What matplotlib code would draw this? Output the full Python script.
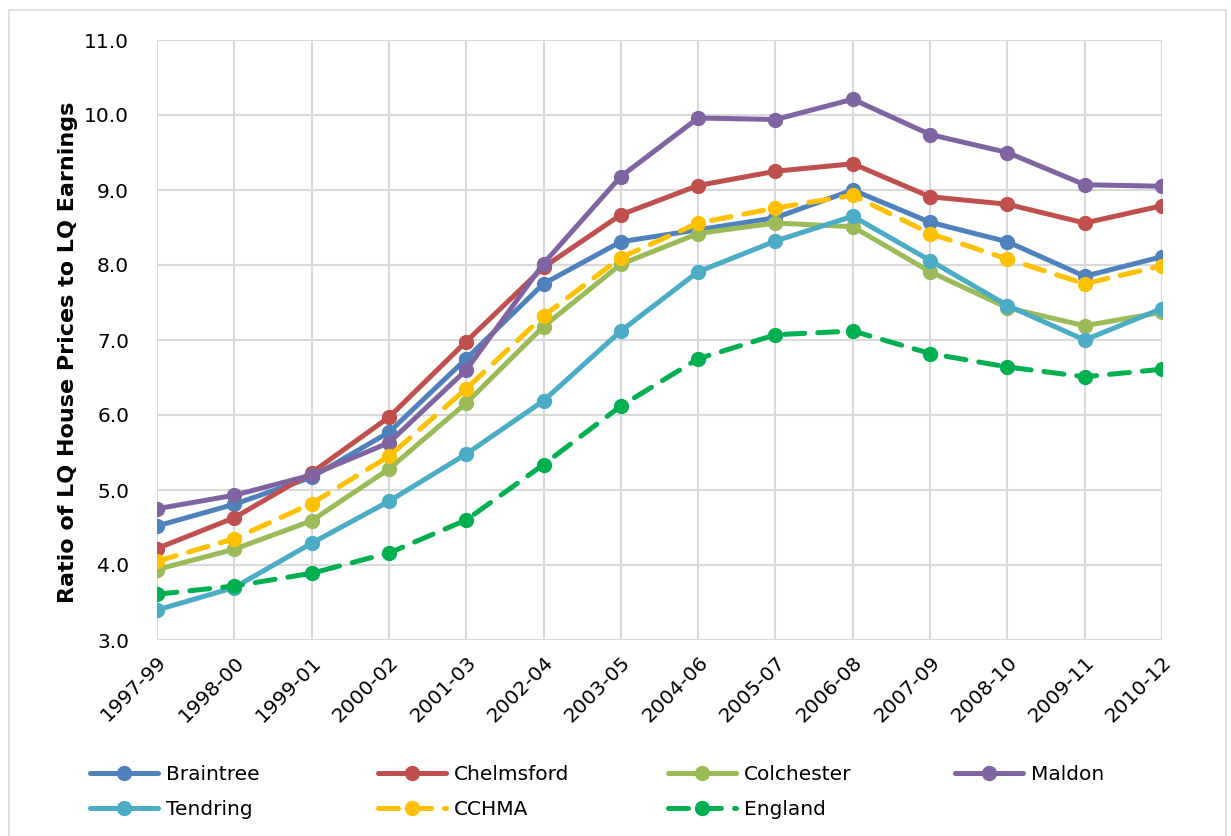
import matplotlib
matplotlib.use("Agg")
import matplotlib.pyplot as plt
from matplotlib.patches import Rectangle

periods = ["1997-99", "1998-00", "1999-01", "2000-02", "2001-03", "2002-04", "2003-05",
           "2004-06", "2005-07", "2006-08", "2007-09", "2008-10", "2009-11", "2010-12"]

braintree = [4.52, 4.81, 5.17, 5.77, 6.75, 7.75, 8.31, 8.47, 8.63, 9.00, 8.57, 8.31, 7.85, 8.11]
chelmsford = [4.22, 4.63, 5.23, 5.97, 6.98, 7.97, 8.67, 9.06, 9.25, 9.35, 8.91, 8.81, 8.56, 8.79]
colchester = [3.94, 4.21, 4.59, 5.28, 6.16, 7.18, 8.01, 8.42, 8.56, 8.51, 7.91, 7.43, 7.19, 7.37]
maldon = [4.75, 4.93, 5.20, 5.63, 6.60, 8.02, 9.18, 9.96, 9.94, 10.21, 9.74, 9.50, 9.07, 9.05]
tendring = [3.40, 3.70, 4.29, 4.85, 5.48, 6.19, 7.12, 7.91, 8.32, 8.65, 8.06, 7.46, 7.00, 7.42]
cchma = [4.05, 4.35, 4.82, 5.45, 6.35, 7.32, 8.10, 8.56, 8.76, 8.93, 8.42, 8.08, 7.75, 7.99]
england = [3.61, 3.72, 3.89, 4.16, 4.60, 5.34, 6.12, 6.75, 7.07, 7.12, 6.82, 6.64, 6.51, 6.61]

series = [
    ("Braintree", braintree, "#4F81BD", "-"),
    ("Chelmsford", chelmsford, "#C0504D", "-"),
    ("Colchester", colchester, "#9BBB59", "-"),
    ("Maldon", maldon, "#8064A2", "-"),
    ("Tendring", tendring, "#4BACC6", "-"),
    ("CCHMA", cchma, "#FFC000", (0, (4, 2.6))),
    ("England", england, "#00B050", (0, (4, 2.6))),
]

plt.rcParams["font.family"] = "DejaVu Sans"

W, H = 1231, 836
fig = plt.figure(figsize=(W / 100, H / 100), dpi=100)
ax = fig.add_axes([157 / W, 196 / H, 1005 / W, 600 / H])

x = list(range(len(periods)))
handles = {}
for name, vals, col, ls in series:
    ln, = ax.plot(x, vals, linestyle=ls, color=col, lw=3.6, marker="o", markersize=10,
                  label=name, solid_capstyle="round", dash_capstyle="round")
    handles[name] = ln

ax.set_xlim(0, len(periods) - 1)
ax.set_ylim(3.0, 11.0)
ax.set_yticks([3 + i for i in range(9)])
ax.set_yticklabels([f"{3 + i:.1f}" for i in range(9)], fontsize=14.5)
ax.set_xticks(x)
ax.set_xticklabels(periods, rotation=45, ha="right", rotation_mode="anchor", fontsize=14.5)
ax.tick_params(length=0)
ax.tick_params(axis="y", pad=20)
ax.tick_params(axis="x", pad=9)
ax.grid(True, color="#D9D9D9", lw=1.5)
ax.set_axisbelow(True)
for s in ax.spines.values():
    s.set_visible(False)
ax.set_ylabel("Ratio of LQ House Prices to LQ Earnings", fontsize=16, fontweight="bold")
ax.yaxis.set_label_coords(-0.079, 0.48)

# legend laid out row by row in four columns, like the original
columns = [["Braintree", "Tendring"], ["Chelmsford", "CCHMA"], ["Colchester", "England"], ["Maldon"]]
col_left = [90, 378, 668, 955]
for names, left in zip(columns, col_left):
    fig.legend([handles[n] for n in names], names, loc="upper left",
               bbox_to_anchor=(left / W, (H - 765) / H), frameon=False,
               fontsize=14.5, handlelength=3.4, handletextpad=0.35,
               labelspacing=0.8, borderpad=0, borderaxespad=0)

fig.add_artist(Rectangle((9 / W, -0.01), 1217 / W, (H - 10) / H + 0.01,
                         transform=fig.transFigure, fill=False,
                         edgecolor="#D9D9D9", lw=1.2))

fig.savefig("out.png", dpi=100)
